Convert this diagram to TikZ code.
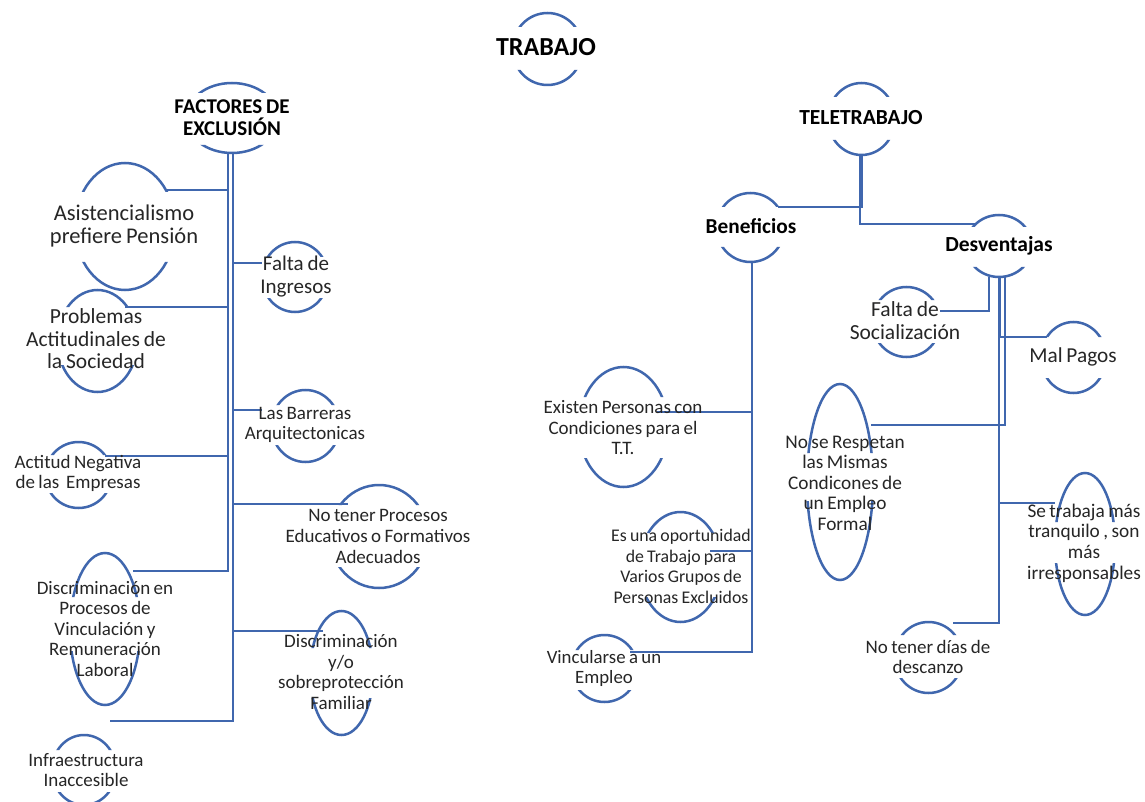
\documentclass[tikz,border=0pt]{standalone}
\usepackage{fontspec}
\setmainfont{Carlito}[WordSpace=0.8]
\usetikzlibrary{shapes.geometric,calc}
\definecolor{lb}{RGB}{64,103,174}
\definecolor{tx}{RGB}{38,38,38}
\tikzset{
  conn/.style={draw=lb, line width=2.6pt},
  ring/.style={draw=lb, line width=2.5pt},
  holder/.style={ellipse, inner sep=0pt, draw=none},
  lbl/.style n args={2}{align=center, inner sep=0pt, text=tx, font=\fontsize{#1}{#2}\selectfont},
  ttl/.style n args={2}{align=center, inner sep=0pt, text=black, font=\bfseries\fontsize{#1}{#2}\selectfont},
}
% name, cx, cy, rx, ry, top of hidden band, bottom of hidden band
\newcommand\bubble[7]{%
  \node[holder, minimum width={2*#4*1pt}, minimum height={2*#5*1pt}] (#1) at (#2,#3) {};
  \begin{scope}
    \clip (#2-#4-4,#3-#5-4) rectangle (#2+#4+4,#6) (#2-#4-4,#7) rectangle (#2+#4+4,#3+#5+4);
    \draw[ring] (#2,#3) ellipse [x radius=#4, y radius=#5];
  \end{scope}}
\begin{document}
\begin{tikzpicture}[x=1pt,y=-1pt]
\useasboundingbox (0,0) rectangle (1145,802);
\fill[white] (0,0) rectangle (1145,802);

% ---------- bubbles ----------
\bubble{trabajo}{547.5}{49}{35}{36}{27}{70}
\bubble{fac}{232}{118}{46}{35}{93}{145}
\bubble{asis}{125}{226.5}{50}{63.5}{192}{262}
\bubble{fing}{295}{277}{33}{35}{257}{298}
\bubble{prob}{97.5}{341}{40}{51}{307}{365}
\bubble{barr}{305.5}{426}{34}{36}{405}{445}
\bubble{acti}{78.5}{475}{33}{33}{455}{493}
\bubble{ntp}{379}{536.5}{49}{51.5}{505}{567}
\bubble{dpro}{105}{629}{35}{76}{597}{651}
\bubble{dfam}{341.5}{673}{31.5}{62}{648}{698}
\bubble{infra}{84}{770}{32}{35}{750}{792}

\bubble{tele}{861.5}{119}{33.5}{36}{97}{140}
\bubble{ben}{750.5}{227.5}{34}{34.5}{207}{247}
\bubble{desv}{999}{246}{33}{31}{227}{267}
\bubble{fsoc}{906.5}{322}{34}{35}{300}{343}
\bubble{malp}{1073.5}{357.5}{32.5}{35.5}{337}{378}
\bubble{nsr}{840}{482}{33}{98}{453}{501}
\bubble{setr}{1085}{544}{30}{71}{522}{563}
\bubble{ntd}{928.5}{657.5}{34}{35.5}{635}{678}
\bubble{exist}{623.5}{427}{44.5}{60}{397}{458}
\bubble{esuna}{680.5}{567}{41}{55}{533}{597}
\bubble{vinc}{604.5}{668.5}{33}{33.5}{650}{690}

% ---------- connectors: left tree ----------
\draw[conn] ([xshift=-4pt]fac.south) |- ($(asis)+(42,-36.5)$);
\draw[conn] ([xshift=-4pt]fac.south) |- ($(prob)+(27.5,-34)$);
\draw[conn] ([xshift=-4pt]fac.south) |- ($(acti)+(26.5,-19)$);
\draw[conn] ([xshift=-4pt]fac.south) |- ($(dpro)+(28,-58)$);
\draw[conn] ([xshift=1pt]fac.south) |- ($(fing)+(-33,-14)$);
\draw[conn] ([xshift=1pt]fac.south) |- ($(barr)+(-43.5,-16)$);
\draw[conn] ([xshift=1pt]fac.south) |- ($(ntp)+(-31,-32.5)$);
\draw[conn] ([xshift=1pt]fac.south) |- ($(dfam)+(-18.5,-42)$);
\draw[conn] ([xshift=1pt]fac.south) |- ($(infra)+(26,-49)$);

% ---------- connectors: right tree ----------
\draw[conn] ([xshift=0.5pt]tele.south) |- ($(ben)+(27.5,-20.5)$);
\draw[conn] ([xshift=-1.5pt]tele.south) |- ($(desv)+(-24,-22)$);

\draw[conn] ([xshift=1.5pt]ben.south) |- ($(exist)+(33.5,-15)$);
\draw[conn] ([xshift=1.5pt]ben.south) |- ($(esuna)+(29.5,-16)$);
\draw[conn] ([xshift=1.5pt]ben.south) |- ($(vinc)+(25.5,-16.5)$);

\draw[conn] ([xshift=-10pt]desv.south) |- ($(fsoc)+(33.5,-11)$);
\draw[conn] ([xshift=1pt]desv.south) |- ($(malp)+(-26.5,-20.5)$);
\draw[conn] ([xshift=6pt]desv.south) |- ($(nsr)+(31,-57)$);
\draw[conn] ([xshift=0pt]desv.south) |- ($(setr)+(-30,-41)$);
\draw[conn] ([xshift=0pt]desv.south) |- ($(ntd)+(24.5,-34.5)$);

% ---------- texts ----------
\node[ttl={26}{28}] (trabajo-t) at (546,47) {TRABAJO};
\node[ttl={21}{22}] (fac-t) at (232,118) {FACTORES DE\\EXCLUSIÓN};
\node[lbl={22.5}{23}] (asis-t) at (124,226.5) {Asistencialismo\\prefiere Pensión};
\node[lbl={21}{23}] (fing-t) at (296,277) {Falta de\\Ingresos};
\node[lbl={21.5}{22.5}] (prob-t) at (96,339) {Problemas\\Actitudinales de\\la Sociedad};
\node[lbl={19}{20}] (barr-t) at (305,425) {Las Barreras\\Arquitectonicas};
\node[lbl={19}{20}] (acti-t) at (78,473) {Actitud Negativa\\de las\ \ Empresas};
\node[lbl={19}{21}] (ntp-t) at (378,536) {No tener Procesos\\Educativos o Formativos\\Adecuados};
\node[lbl={19}{20.5}] (dpro-t) at (105,629) {Discriminación en\\Procesos de\\Vinculación y\\Remuneración\\Laboral};
\node[lbl={19}{20.5}] (dfam-t) at (341,672) {Discriminación\\y/o\\sobreprotección\\Familiar};
\node[lbl={19}{20}] (infra-t) at (86,770) {Infraestructura\\Inaccesible};

\node[ttl={21.5}{23}] (tele-t) at (861,118) {TELETRABAJO};
\node[ttl={21.3}{23}] (ben-t) at (751,226) {Beneficios};
\node[ttl={21.5}{23}] (desv-t) at (999,246) {Desventajas};
\node[lbl={21.5}{23}] (fsoc-t) at (905,321) {Falta de\\Socialización};
\node[lbl={21.3}{23}] (malp-t) at (1073,357) {Mal Pagos};
\node[lbl={19.3}{20.5}] (nsr-t) at (845,483) {No se Respetan\\las Mismas\\Condicones de\\un Empleo\\Formal};
\node[lbl={19.3}{20.7}] (setr-t) at (1084,543) {Se trabaja más\\tranquilo , son\\más\\irresponsables};
\node[lbl={19}{20}] (ntd-t) at (928,657) {No tener días de\\descanzo};
\node[lbl={19}{20.5}] (exist-t) at (623,428) {Existen Personas con\\Condiciones para el\\T.T.};
\node[lbl={17.8}{20.5}] (esuna-t) at (681,566.5) {Es una oportunidad\\de Trabajo para\\Varios Grupos de\\Personas Excluidos};
\node[lbl={18.8}{20}] (vinc-t) at (604,668) {Vincularse a un\\Empleo};
\end{tikzpicture}
\end{document}
